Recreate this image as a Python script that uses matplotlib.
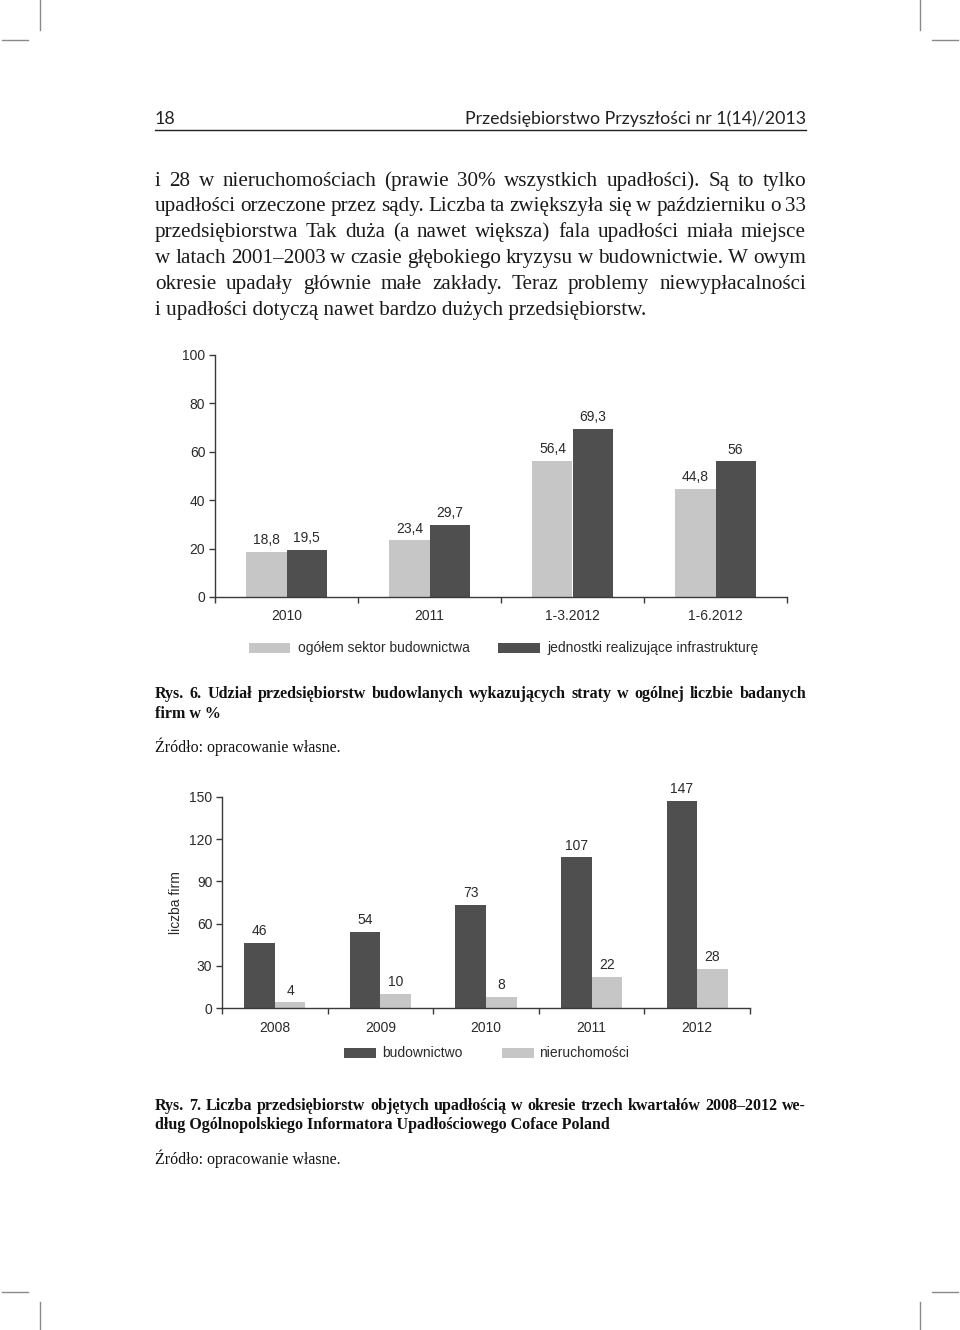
import matplotlib
matplotlib.use("Agg")
import matplotlib.pyplot as plt
from matplotlib.patches import Rectangle
import numpy as np

# ---------------- data ----------------
cats1 = ["2010", "2011", "1-3.2012", "1-6.2012"]
ogolem = [18.8, 23.4, 56.4, 44.8]
jednostki = [19.5, 29.7, 69.3, 56.0]
yticks1 = [0, 20, 40, 60, 80, 100]
legend1 = ["ogółem sektor budownictwa", "jednostki realizujące infrastrukturę"]

cats2 = ["2008", "2009", "2010", "2011", "2012"]
budownictwo = [46, 54, 73, 107, 147]
nieruchomosci = [4, 10, 8, 22, 28]
yticks2 = [0, 30, 60, 90, 120, 150]
legend2 = ["budownictwo", "nieruchomości"]
ylabel2 = "liczba firm"

header_left = "18"
header_right = "Przedsiębiorstwo Przyszłości nr 1(14)/2013"
body_lines = [
    "i 28 w nieruchomościach (prawie 30% wszystkich upadłości). Są to tylko",
    "upadłości orzeczone przez sądy. Liczba ta zwiększyła się w październiku o 33",
    "przedsiębiorstwa Tak duża (a nawet większa) fala upadłości miała miejsce",
    "w latach 2001–2003 w czasie głębokiego kryzysu w budownictwie. W owym",
    "okresie upadały głównie małe zakłady. Teraz problemy niewypłacalności",
    "i upadłości dotyczą nawet bardzo dużych przedsiębiorstw.",
]
cap6 = ["Rys. 6. Udział przedsiębiorstw budowlanych wykazujących straty w ogólnej liczbie badanych",
        "firm w %"]
cap7 = ["Rys. 7. Liczba przedsiębiorstw objętych upadłością w okresie trzech kwartałów 2008–2012 we-",
        "dług Ogólnopolskiego Informatora Upadłościowego Coface Poland"]
source = "Źródło: opracowanie własne."

LIGHT = "#c6c6c6"
DARK = "#4f4f4f"
TXT = "#2a2a2a"
SANS = ["Liberation Sans", "DejaVu Sans"]
SERIF = ["Liberation Serif", "DejaVu Serif"]
FS = 10

W, H = 960, 1330
fig = plt.figure(figsize=(W / 100, H / 100), dpi=100)
fig.patch.set_facecolor("white")

over = fig.add_axes([0, 0, 1, 1])
over.set_xlim(0, W)
over.set_ylim(H, 0)
over.axis("off")
over.set_zorder(5)

renderer = fig.canvas.get_renderer()


def text_width(s, **kw):
    t = over.text(0, 0, s, **kw)
    w = t.get_window_extent(renderer).width
    t.remove()
    return w


def justified(line, y, x0, x1, justify=True, **kw):
    if not justify:
        over.text(x0, y, line, va="baseline", ha="left", **kw)
        return
    words = line.split(" ")
    widths = [text_width(w, **kw) for w in words]
    gap = (x1 - x0 - sum(widths)) / (len(words) - 1)
    x = x0
    for w, wd in zip(words, widths):
        over.text(x, y, w, va="baseline", ha="left", **kw)
        x += wd + gap


def fig_axes(x0, y0, x1, y1):
    return fig.add_axes([x0 / W, 1 - y1 / H, (x1 - x0) / W, (y1 - y0) / H])


# ---------------- crop marks ----------------
cm = dict(color="#8a8a8a", lw=1)
over.plot([40, 40], [0, 30], **cm)
over.plot([2, 28], [40, 40], **cm)
over.plot([920, 920], [0, 30], **cm)
over.plot([932, 958], [40, 40], **cm)
over.plot([2, 28], [1292, 1292], **cm)
over.plot([40, 40], [1302, 1330], **cm)
over.plot([932, 958], [1292, 1292], **cm)
over.plot([920, 920], [1302, 1330], **cm)

# ---------------- header ----------------
over.text(155, 124, header_left, family=["Lato", "DejaVu Sans"], fontsize=12.8,
          color="#222", va="baseline", ha="left")
over.text(806, 124, header_right, family=["Lato", "DejaVu Sans"], fontsize=12.8,
          color="#222", va="baseline", ha="right")
over.plot([155, 806], [130, 130], color="#222", lw=1)

# ---------------- body text ----------------
body_y = [186, 211, 237, 263, 289, 315]
for i, (ln, y) in enumerate(zip(body_lines, body_y)):
    justified(ln, y, 155, 806, justify=(i < len(body_lines) - 1),
              family=SERIF, fontsize=15.2, color="#1a1a1a")

# ---------------- chart 1 ----------------
ax1 = fig_axes(215, 355, 787, 597)
x1 = np.arange(len(cats1))
bw1 = 0.28
b1a = ax1.bar(x1 - bw1 / 2, ogolem, bw1, color=LIGHT, linewidth=0)
b1b = ax1.bar(x1 + bw1 / 2, jednostki, bw1, color=DARK, linewidth=0)
ax1.set_xlim(-0.5, len(cats1) - 0.5)
ax1.set_ylim(0, 100)


def fmt(v):
    return f"{v:g}".replace(".", ",")


for bars, vals in ((b1a, ogolem), (b1b, jednostki)):
    for b, v in zip(bars, vals):
        ax1.annotate(fmt(v), (b.get_x() + b.get_width() / 2, v), xytext=(0, 3.5),
                     textcoords="offset points", ha="center", va="bottom",
                     fontsize=FS, family=SANS, color=TXT)

# ---------------- chart 2 ----------------
ax2 = fig_axes(222, 797, 750, 1008)
x2 = np.arange(len(cats2))
bw2 = 0.29
b2a = ax2.bar(x2 - bw2 / 2, budownictwo, bw2, color=DARK, linewidth=0)
b2b = ax2.bar(x2 + bw2 / 2, nieruchomosci, bw2, color=LIGHT, linewidth=0)
ax2.set_xlim(-0.5, len(cats2) - 0.5)
ax2.set_ylim(0, 150)
for bars, vals in ((b2a, budownictwo), (b2b, nieruchomosci)):
    for b, v in zip(bars, vals):
        ax2.annotate(fmt(v), (b.get_x() + b.get_width() / 2, v), xytext=(0, 3.5),
                     textcoords="offset points", ha="center", va="bottom",
                     fontsize=FS, family=SANS, color=TXT)
ax2.set_ylabel(ylabel2, fontsize=FS, family=SANS, color=TXT, labelpad=4)

for ax, cats, yt, pad in ((ax1, cats1, yticks1, 9), (ax2, cats2, yticks2, 9)):
    for s in ("top", "right"):
        ax.spines[s].set_visible(False)
    for s in ("left", "bottom"):
        ax.spines[s].set_color("#3a3a3a")
        ax.spines[s].set_linewidth(1.0)
    ax.set_facecolor("none")
    ax.set_yticks(yt)
    ax.set_yticklabels([str(v) for v in yt], fontsize=FS, family=SANS, color=TXT)
    ax.tick_params(axis="y", length=4, width=1, color="#3a3a3a", pad=3)
    ax.set_xticks(np.arange(len(cats)))
    ax.set_xticklabels(cats, fontsize=FS, family=SANS, color=TXT)
    ax.tick_params(axis="x", which="major", length=0, pad=pad)
    ax.set_xticks(np.arange(len(cats) + 1) - 0.5, minor=True)
    ax.tick_params(axis="x", which="minor", length=4, width=1, color="#3a3a3a")

# ---------------- legends ----------------
def legend_item(x0, x1, y, color, label, tx):
    over.add_patch(Rectangle((x0, y - 5), x1 - x0, 10, color=color, lw=0))
    over.text(tx, y, label, va="center", ha="left", fontsize=FS, family=SANS, color=TXT)


legend_item(249, 290, 648, LIGHT, legend1[0], 298)
legend_item(498, 540, 648, DARK, legend1[1], 547)
legend_item(344, 376, 1053, DARK, legend2[0], 382)
legend_item(502, 534, 1053, LIGHT, legend2[1], 539)

# ---------------- captions ----------------
capkw = dict(family=SERIF, fontsize=11.5, color="#111", weight="bold")
justified(cap6[0], 698, 155, 806, True, **capkw)
justified(cap6[1], 718, 155, 806, False, **capkw)
over.text(155, 752, source, va="baseline", ha="left", family=SERIF, fontsize=11.5, color="#111")

justified(cap7[0], 1110, 155, 806, True, **capkw)
justified(cap7[1], 1129, 155, 806, False, **capkw)
over.text(155, 1164, source, va="baseline", ha="left", family=SERIF, fontsize=11.5, color="#111")

fig.savefig("out.png", dpi=100, facecolor="white")
